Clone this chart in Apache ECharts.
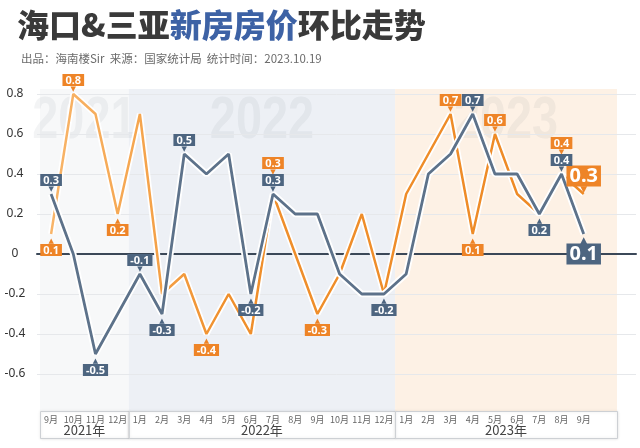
<!DOCTYPE html>
<html><head><meta charset="utf-8">
<script src="https://cdn.jsdelivr.net/npm/echarts@6/dist/echarts.min.js"></script>
<style>html,body{margin:0;padding:0;background:#fff}#c{width:640px;height:448px}</style>
</head><body><div id="c"></div>
<script>
// ---- data ----
const categories = ['2021-09','2021-10','2021-11','2021-12',
  '2022-01','2022-02','2022-03','2022-04','2022-05','2022-06','2022-07','2022-08','2022-09','2022-10','2022-11','2022-12',
  '2023-01','2023-02','2023-03','2023-04','2023-05','2023-06','2023-07','2023-08','2023-09','2023-10'];
const monthLabels = ['9月','10月','11月','12月',
  '1月','2月','3月','4月','5月','6月','7月','8月','9月','10月','11月','12月',
  '1月','2月','3月','4月','5月','6月','7月','8月','9月',''];
const yearLabels = ['2021年','2022年','2023年'];
const yearWatermarks = ['2021','2022','2023'];
const yearSpans = [4, 12, 10];
const haikou = [0.3, 0.0, -0.5, -0.3,
  -0.1, -0.3, 0.5, 0.4, 0.5, -0.2, 0.3, 0.2, 0.2, -0.1, -0.2, -0.2,
  -0.1, 0.4, 0.5, 0.7, 0.4, 0.4, 0.2, 0.4, 0.1, null];
const sanya = [0.1, 0.8, 0.7, 0.2,
  0.7, -0.2, -0.1, -0.4, -0.2, -0.4, 0.3, 0.0, -0.3, -0.1, 0.2, -0.2,
  0.3, 0.5, 0.7, 0.1, 0.6, 0.3, 0.2, 0.4, 0.3, null];
const titleMain = ['海口&三亚', '新房房价', '环比走势'];
const subtitle = '出品：海南楼Sir  来源：国家统计局  统计时间：2023.10.19';

// ---- label placement (style) ----
const haikouLabels = {0:'top',2:'bottom',4:'top',5:'bottom',6:'top',9:'bottom',10:'top',15:'bottom',19:'top',22:'bottom',23:'top',24:'bigBottom'};
const sanyaLabels = {0:'bottom',1:'top',3:'bottom',7:'bottom',10:'stackTop',12:'bottom',18:'top',19:'bottom',20:'top',23:'stackTop',24:'bigTop'};

const GRAY = '#5d728a', GRAY_BG = '#4d6580';
const ORANGE = '#ee8a26', ORANGE_BG = '#ee8427';
const bandColors = ['#f7f8f9', '#edf0f5', '#fdf1e5'];

function fmt(v){ return (Math.round(v*10)/10).toFixed(1); }
function makeLabel(kind, v, bg){
  const big = kind.indexOf('big') === 0;
  const top = kind === 'top' || kind === 'stackTop' || kind === 'bigTop';
  const rich = {
    b:{backgroundColor:bg, color:'#fff', fontSize: big?20:11, fontWeight:'bold', fontFamily:'Noto Sans',
       padding:[1,3,0,3], lineHeight: big?21:13, align:'center'},
    a:{color:bg, fontSize: big?9:7, lineHeight: big?6:5, align:'center', fontFamily:'DejaVu Sans'}
  };
  const dist = {top:2, bottom:4, stackTop:19, bigTop:1, bigBottom:3}[kind];
  return {
    show:true, position: top?'top':'bottom', distance: dist, opacity:1,
    formatter: top ? ('{b|'+fmt(v)+'}\n{a|▼}') : ('{a|▲}\n{b|'+fmt(v)+'}'),
    rich: rich
  };
}
function labelData(values, labels, bg){
  return values.map((v,i)=> labels[i] ? {value:v, label: makeLabel(labels[i], v, bg)} : {value:v, label:{show:false}});
}

const orangeGrad = new echarts.graphic.LinearGradient(0,0,1,0,[
  {offset:0, color:'#f8b56a'},{offset:0.17, color:'#f5a54e'},{offset:0.33, color:'#ef8f2c'},{offset:1, color:ORANGE}]);

const common = {type:'line', xAxisIndex:1, yAxisIndex:1, silent:true, emphasis:{disabled:true}};

const option = {
  animation:false,
  backgroundColor:'#fff',
  title:[
    {left:12, top:4, text:'{a|'+titleMain[0]+'}{b|'+titleMain[1]+'}{a|'+titleMain[2]+'}',
     textStyle:{rich:{
       a:{fontSize:32, fontWeight:900, color:'#3a3a3a', fontFamily:'Noto Sans CJK SC'},
       b:{fontSize:32, fontWeight:900, color:'#3d62a5', fontFamily:'Noto Sans CJK SC'}}}},
    {left:16, top:48, text:subtitle, textStyle:{fontSize:11.5, fontWeight:'normal', color:'#6b6b6b', fontFamily:'Noto Sans CJK SC'}}
  ],
  grid:[{left:37, right:4, top:94, bottom:34},{left:40, right:23, top:94, bottom:34}],
  xAxis:[
    {gridIndex:0, type:'value', min:0, max:1, axisLine:{show:true, onZero:true, lineStyle:{color:'#3b4858', width:2}},
     axisTick:{show:false}, axisLabel:{show:false}, splitLine:{show:false}},
    {gridIndex:1, type:'category', data:categories, boundaryGap:true, axisLine:{show:false}, axisTick:{show:false},
     splitLine:{show:false},
     axisLabel:{interval:0, margin:1, fontSize:9, color:'#666', fontFamily:'Noto Sans CJK SC',
       formatter:(v,i)=>monthLabels[i]}}
  ],
  yAxis:[
    {gridIndex:0, type:'value', min:-0.8, max:0.8, interval:0.2, axisLine:{show:false}, axisTick:{show:false},
     axisLabel:{align:'center', margin:22, fontSize:12, color:'#333', fontFamily:'Noto Sans',
       formatter:(v)=> Math.abs(v+0.8)<1e-6 ? '' : String(Math.round(v*10)/10)},
     splitLine:{lineStyle:{color:['rgba(0,0,0,0)','#e6e8eb','#e6e8eb','#e6e8eb','#e6e8eb','#e6e8eb','#e6e8eb','#e6e8eb','#e6e8eb'], width:1}}},
    {gridIndex:1, type:'value', min:-0.8, max:0.8, interval:0.2, show:false}
  ],
  series:[
    Object.assign({}, common, {name:'三亚_halo', data:sanya, symbol:'none', lineStyle:{color:'#fff', width:6}, z:2}),
    Object.assign({}, common, {name:'三亚', data:sanya, symbol:'none', lineStyle:{color:orangeGrad, width:2.5}, z:2}),
    Object.assign({}, common, {name:'海口_halo', data:haikou, symbol:'none', lineStyle:{color:'#fff', width:6.5}, z:2}),
    Object.assign({}, common, {name:'海口', data:haikou, symbol:'none', lineStyle:{color:GRAY, width:2.8}, z:2}),
    Object.assign({}, common, {name:'三亚标签', data:labelData(sanya, sanyaLabels, ORANGE_BG), symbol:'circle', symbolSize:1,
      itemStyle:{color:'rgba(0,0,0,0)'}, lineStyle:{width:0, opacity:0}, z:3}),
    Object.assign({}, common, {name:'海口标签', data:labelData(haikou, haikouLabels, GRAY_BG), symbol:'circle', symbolSize:1,
      itemStyle:{color:'rgba(0,0,0,0)'}, lineStyle:{width:0, opacity:0}, z:3})
  ]
};

const chart = echarts.init(document.getElementById('c'), null, {renderer:'canvas'});
chart.setOption(option);

// background bands, year watermarks and year boxes positioned through the category axis
function px(i){ return chart.convertToPixel({xAxisIndex:1, yAxisIndex:1}, [i, 0])[0]; }
const w = px(1) - px(0);
const elems = [];
let start = 0;
yearSpans.forEach((n,k)=>{
  const x0 = px(start) - w/2, x1 = px(start+n-1) + w/2;
  const cx = (x0 + x1)/2;
  elems.push({type:'rect', z:-10, silent:true, shape:{x:x0, y:89, width:x1-x0, height:322}, style:{fill:bandColors[k]}});
  elems.push({type:'text', z:-9, silent:true, x:cx, y:121, scaleX:0.78,
    style:{text:yearWatermarks[k], fontSize:60, fontWeight:'bold', fontFamily:'Liberation Sans', fill:'rgba(90,100,115,0.07)', align:'center', verticalAlign:'middle'}});
  elems.push({type:'rect', z:-1, silent:true, shape:{x:x0+0.5, y:411.5, width:x1-x0, height:27},
    style:{fill:'#fff', stroke:'#cdd0d4', lineWidth:1, shadowBlur:3, shadowColor:'rgba(0,0,0,0.12)'}});
  elems.push({type:'text', z:-1, silent:true, x:cx, y:430,
    style:{text:yearLabels[k], fontSize:13, fontFamily:'Noto Sans CJK SC', fill:'#444', align:'center', verticalAlign:'middle'}});
  start += n;
});
chart.setOption({graphic: elems});
</script></body></html>
